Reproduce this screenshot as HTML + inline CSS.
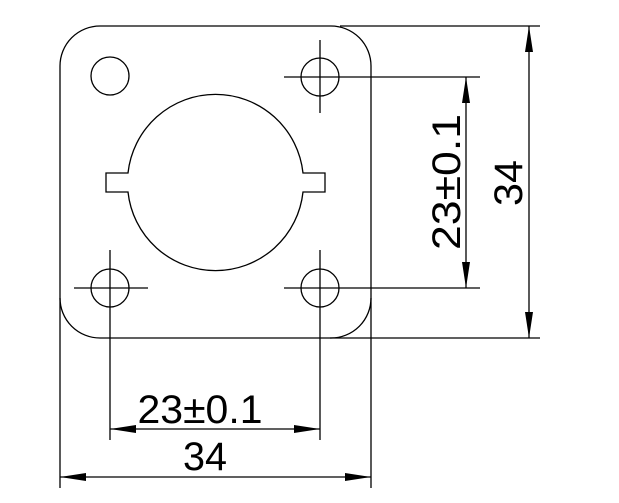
<!DOCTYPE html>
<html><head><style>html,body{margin:0;padding:0;background:#fff}svg{display:block}</style></head>
<body>
<svg width="619" height="503" viewBox="0 0 619 503" xmlns="http://www.w3.org/2000/svg">
<g fill="none" stroke="#000" stroke-width="1.3">
<path d="M100,26 H331 A40,40 0 0 1 371,66 V298 A40,40 0 0 1 331,338 H100 A40,40 0 0 1 60,298 V66 A40,40 0 0 1 100,26 Z"/>
<circle cx="110" cy="76" r="19"/>
<circle cx="320" cy="77" r="19"/>
<circle cx="110" cy="288" r="19"/>
<circle cx="320" cy="288" r="19"/>
<path d="M128,173 A88,88 0 0 1 303,173 H325 V192 H303 A88,88 0 0 1 128,192 H106 V173 Z"/>
<path d="M284,77 H480 M320,40 V113"/>
<path d="M74,288 H148 M110,250 V440"/>
<path d="M284,288 H480 M320,250 V440"/>
<path d="M340,26 H540 M330,338 H540"/>
<path d="M466,77 V288 M529,26 V338"/>
<path d="M60,298 V488 M371,298 V488"/>
<path d="M110,429 H320 M60,477 H371"/>
</g>
<g fill="#000">
<polygon points="466,77 462,103 470,103"/>
<polygon points="466,288 462,262 470,262"/>
<polygon points="529,26 525,52 533,52"/>
<polygon points="529,338 525,312 533,312"/>
<polygon points="110,429 136,425 136,433"/>
<polygon points="320,429 294,425 294,433"/>
<polygon points="60,477 86,473 86,481"/>
<polygon points="371,477 345,473 345,481"/>
</g>
<g font-family="Liberation Sans, sans-serif" font-size="40" fill="#000" text-anchor="middle">
<text x="200" y="423" textLength="125" lengthAdjust="spacingAndGlyphs">23±0.1</text>
<text x="205" y="470" textLength="44" lengthAdjust="spacingAndGlyphs">34</text>
<text transform="translate(460,182) rotate(-90)" textLength="136" lengthAdjust="spacingAndGlyphs">23±0.1</text>
<text transform="translate(522,183) rotate(-90)" textLength="46" lengthAdjust="spacingAndGlyphs">34</text>
</g>
</svg>
</body></html>
